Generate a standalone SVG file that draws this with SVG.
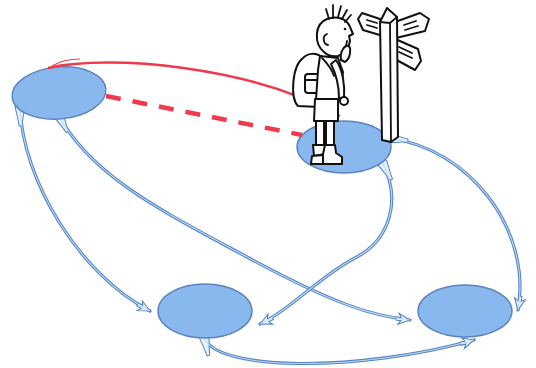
<svg xmlns="http://www.w3.org/2000/svg" width="536" height="368" viewBox="0 0 536 368">
  <style>
    .node { fill: #88b8ee; stroke: #5a82bf; stroke-width: 1.4; }
    .flow { fill: none; stroke: #5184c6; stroke-width: 3.2; stroke-linecap: round; }
    .flow-in { fill: none; stroke: #c4daf3; stroke-width: 1.1; }
    .red { fill: none; stroke: #ee3a4a; }
    .ink { fill: #fff; stroke: #111; stroke-width: 2; stroke-linejoin: round; stroke-linecap: round; }
    .ink-line { fill: none; stroke: #111; stroke-width: 1.8; stroke-linecap: round; stroke-linejoin: round; }
  </style>
  <defs>
    <marker id="head" viewBox="-12 -8 18 16" refX="3" refY="0" markerWidth="18" markerHeight="16" markerUnits="userSpaceOnUse" orient="auto">
      <path d="M-11,-1.6 L-6,-1.6 L-8.5,-5.5 L3,0 L-8.5,5.5 L-6,1.6 L-11,1.6 Z" fill="#eef4fb" stroke="#4f7fc0" stroke-width="1"/>
    </marker>
    <marker id="tail" viewBox="0 -7 22 14" refX="0" refY="0" markerWidth="22" markerHeight="14" markerUnits="userSpaceOnUse" orient="auto">
      <path d="M0,-5 C7,-3.8 13,-2.2 20,-1.4 L20,1.4 C13,2.2 7,3.8 0,5 Z" fill="#e6eff9" stroke="#5184c6" stroke-width="1"/>
    </marker>
  </defs>

  <!-- flows between the stations -->
  <g id="connectors">
    <path class="flow" marker-start="url(#tail)" marker-end="url(#head)" d="M20,106 C22,180 80,275 150,311"/>
    <path class="flow-in" d="M20,106 C22,180 80,275 150,311"/>
    <path class="flow" marker-start="url(#tail)" marker-end="url(#head)" d="M58,114 C90,175 160,210 247,257 S372,316 410,320"/>
    <path class="flow-in" d="M58,114 C90,175 160,210 247,257 S372,316 410,320"/>
    <path class="flow" marker-start="url(#tail)" marker-end="url(#head)" d="M382,162 C402,200 390,240 355,258 S290,310 260,324"/>
    <path class="flow-in" d="M382,162 C402,200 390,240 355,258 S290,310 260,324"/>
    <path class="flow" marker-start="url(#tail)" marker-end="url(#head)" d="M388,138 C470,148 532,230 518,310"/>
    <path class="flow-in" d="M388,138 C470,148 532,230 518,310"/>
    <path class="flow" marker-start="url(#tail)" marker-end="url(#head)" d="M204,336 C212,372 360,372 474,340"/>
    <path class="flow-in" d="M204,336 C212,372 360,372 474,340"/>
  </g>

  <!-- stations -->
  <g id="node-top-left">
    <ellipse class="node" cx="59" cy="93" rx="47" ry="26" transform="rotate(-5 59 93)"/>
  </g>
  <g id="node-top-right">
    <ellipse class="node" cx="344" cy="147" rx="47" ry="26"/>
  </g>
  <g id="node-bottom-left">
    <ellipse class="node" cx="205" cy="311" rx="47" ry="27"/>
  </g>
  <g id="node-bottom-right">
    <ellipse class="node" cx="465" cy="311" rx="47" ry="26"/>
  </g>

  <!-- direct routes in red -->
  <g id="red-routes">
    <path class="red" stroke-width="2.4" d="M48,68 C110,54 250,66 340,116"/>
    <path class="red" stroke-width="1.2" d="M52,66 C60,61 68,59 80,59"/>
    <path class="red" stroke-width="4.5" stroke-dasharray="15 12" d="M106,96 L302,135"/>
  </g>

  <!-- signpost -->
  <g id="signpost">
    <path class="ink" d="M383,20 L362,13 L358,19 L363,30 L383,36 Z"/>
    <path class="ink-line" d="M367,20 L377,23 M367,25 L377,28"/>
    <path class="ink" d="M395,22 L420,13 L429,19 L425,31 L396,38 Z"/>
    <path class="ink-line" d="M404,25 L416,21 M405,30 L418,26"/>
    <path class="ink" d="M393,38 L418,49 L421,61 L415,70 L393,58 Z"/>
    <path class="ink-line" d="M399,47 L412,53 M399,52 L412,58"/>
    <path class="ink" d="M380,22 L387,8 L397,17 L398,137 L391,142 L382,140 Z"/>
    <path class="ink-line" d="M380,22 L390,23 L397,17 M390,23 L391,142"/>
  </g>

  <!-- hiker -->
  <g id="hiker">
    <!-- backpack -->
    <path class="ink" d="M303,58 C292,66 290,98 298,106 L319,107 L323,58 C316,52 308,53 303,58 Z"/>
    <rect class="ink" x="305" y="74" width="15" height="19" rx="3"/>
    <path class="ink-line" d="M306,80 L319,80"/>
    <!-- shirt and arm -->
    <path class="ink" d="M320,56 L338,58 L343,72 L340,100 L316,100 L318,70 Z"/>
    <path class="ink" d="M336,60 C343,70 345,86 344,98 L339,98 C339,86 336,74 331,64 Z"/>
    <circle class="ink" cx="344" cy="101" r="4"/>
    <path class="ink-line" d="M322,58 C328,64 332,70 334,76"/>
    <!-- shorts, legs, boots -->
    <path class="ink" d="M315,99 L338,99 L338,121 L314,121 Z"/>
    <rect class="ink" x="316" y="121" width="8" height="25"/>
    <rect class="ink" x="326" y="121" width="8" height="25"/>
    <path class="ink" d="M313,145 L325,145 L325,154 L314,156 Z"/>
    <path class="ink" d="M325,145 L335,145 L336,153 L342,157 L342,164 L323,164 L323,154 Z"/>
    <path class="ink" d="M312,156 L323,155 L323,164 L311,164 Z"/>
    <!-- head -->
    <path class="ink" d="M324,52 C314,44 314,24 327,19 C337,15 347,19 350,27 L353,34 L349,36 L350,41 C349,48 345,54 338,56 C332,57 327,55 324,52 Z"/>
    <path class="ink-line" d="M329,19 L326,9 M333,18 L333,5 M338,17 L341,6 M342,19 L347,10 M345,22 L351,15"/>
    <path class="ink-line" d="M327,34 C322,36 323,44 328,45"/>
    <circle cx="345" cy="29" r="1.3" fill="#111"/>
    <!-- hand raised to the chin -->
    <path class="ink" d="M341,60 C340,54 342,48 346,46 C349,45 351,48 350,52 C350,56 348,60 345,62 Z"/>
    <path class="ink-line" d="M346,46 L347,41"/>
  </g>
</svg>
